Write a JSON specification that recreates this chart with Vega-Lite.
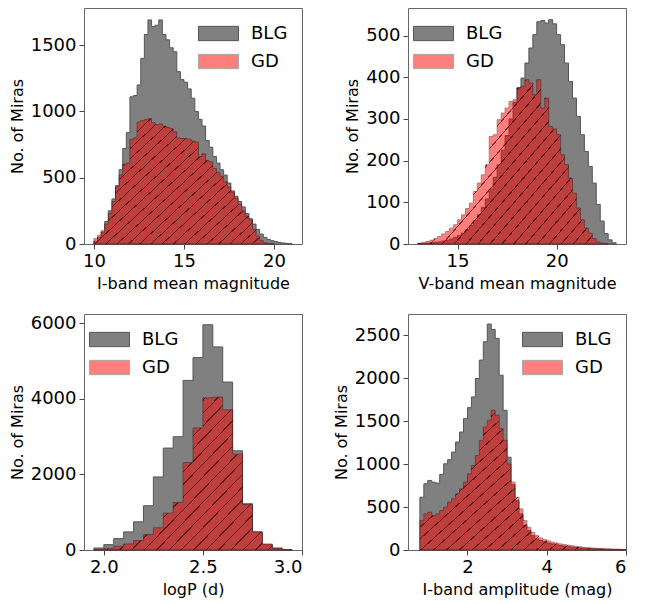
{
"$schema": "https://vega.github.io/schema/vega-lite/v6.json",
"padding": {"left": 8, "top": 7, "right": 5, "bottom": 5},
"config": {
  "font": "DejaVu Sans",
  "view": {"stroke": "#666", "strokeWidth": 1},
  "axis": {"domain": false, "grid": false, "tickColor": "#444", "tickSize": 5, "labelPadding": 3, "labelFontSize": 18, "labelColor": "#000", "titleFontSize": 16, "titleFontWeight": "normal", "titleColor": "#000", "titlePadding": 5},
  "legend": {"title": null, "symbolType": "M-1.82,-0.65L1.82,-0.65L1.82,0.65L-1.82,0.65Z", "symbolSize": 484, "symbolStrokeWidth": 1, "labelFontSize": 18, "labelColor": "#000", "labelOffset": 21, "offset": 14, "padding": 0, "rowPadding": 7}
},
"spacing": {"row": 21, "column": 29},
"columns": 2,
"resolve": {"scale": {"x": "independent", "y": "independent"}, "legend": {"color": "independent", "opacity": "independent"}},
"datasets": {
"imag": [
{"s":"BLG","x":10.0,"n":20},{"s":"BLG","x":10.2,"n":50},{"s":"BLG","x":10.4,"n":90},{"s":"BLG","x":10.6,"n":170},{"s":"BLG","x":10.8,"n":250},{"s":"BLG","x":11.0,"n":340},{"s":"BLG","x":11.2,"n":440},{"s":"BLG","x":11.4,"n":560},{"s":"BLG","x":11.6,"n":720},{"s":"BLG","x":11.8,"n":840},{"s":"BLG","x":12.0,"n":1110},{"s":"BLG","x":12.2,"n":1120},{"s":"BLG","x":12.4,"n":1200},{"s":"BLG","x":12.6,"n":1400},{"s":"BLG","x":12.8,"n":1580},{"s":"BLG","x":13.0,"n":1690},{"s":"BLG","x":13.2,"n":1640},{"s":"BLG","x":13.4,"n":1650},{"s":"BLG","x":13.6,"n":1690},{"s":"BLG","x":13.8,"n":1580},{"s":"BLG","x":14.0,"n":1540},{"s":"BLG","x":14.2,"n":1480},{"s":"BLG","x":14.4,"n":1450},{"s":"BLG","x":14.6,"n":1300},{"s":"BLG","x":14.8,"n":1240},{"s":"BLG","x":15.0,"n":1220},{"s":"BLG","x":15.2,"n":1170},{"s":"BLG","x":15.4,"n":1100},{"s":"BLG","x":15.6,"n":1000},{"s":"BLG","x":15.8,"n":940},{"s":"BLG","x":16.0,"n":890},{"s":"BLG","x":16.2,"n":780},{"s":"BLG","x":16.4,"n":730},{"s":"BLG","x":16.6,"n":660},{"s":"BLG","x":16.8,"n":610},{"s":"BLG","x":17.0,"n":560},{"s":"BLG","x":17.2,"n":520},{"s":"BLG","x":17.4,"n":460},{"s":"BLG","x":17.6,"n":400},{"s":"BLG","x":17.8,"n":360},{"s":"BLG","x":18.0,"n":320},{"s":"BLG","x":18.2,"n":280},{"s":"BLG","x":18.4,"n":230},{"s":"BLG","x":18.6,"n":190},{"s":"BLG","x":18.8,"n":150},{"s":"BLG","x":19.0,"n":110},{"s":"BLG","x":19.2,"n":75},{"s":"BLG","x":19.4,"n":50},{"s":"BLG","x":19.6,"n":35},{"s":"BLG","x":19.8,"n":25},{"s":"BLG","x":20.0,"n":18},{"s":"BLG","x":20.2,"n":12},{"s":"BLG","x":20.4,"n":8},{"s":"BLG","x":20.6,"n":5},{"s":"BLG","x":20.8,"n":3},{"s":"BLG","x":21.0,"n":0},
{"s":"GD","x":10.0,"n":40},{"s":"GD","x":10.2,"n":65},{"s":"GD","x":10.4,"n":100},{"s":"GD","x":10.6,"n":150},{"s":"GD","x":10.8,"n":230},{"s":"GD","x":11.0,"n":320},{"s":"GD","x":11.2,"n":430},{"s":"GD","x":11.4,"n":520},{"s":"GD","x":11.6,"n":600},{"s":"GD","x":11.8,"n":610},{"s":"GD","x":12.0,"n":790},{"s":"GD","x":12.2,"n":800},{"s":"GD","x":12.4,"n":920},{"s":"GD","x":12.6,"n":930},{"s":"GD","x":12.8,"n":940},{"s":"GD","x":13.0,"n":945},{"s":"GD","x":13.2,"n":915},{"s":"GD","x":13.4,"n":900},{"s":"GD","x":13.6,"n":905},{"s":"GD","x":13.8,"n":890},{"s":"GD","x":14.0,"n":880},{"s":"GD","x":14.2,"n":870},{"s":"GD","x":14.4,"n":845},{"s":"GD","x":14.6,"n":800},{"s":"GD","x":14.8,"n":795},{"s":"GD","x":15.0,"n":795},{"s":"GD","x":15.2,"n":790},{"s":"GD","x":15.4,"n":775},{"s":"GD","x":15.6,"n":770},{"s":"GD","x":15.8,"n":660},{"s":"GD","x":16.0,"n":680},{"s":"GD","x":16.2,"n":630},{"s":"GD","x":16.4,"n":620},{"s":"GD","x":16.6,"n":570},{"s":"GD","x":16.8,"n":540},{"s":"GD","x":17.0,"n":510},{"s":"GD","x":17.2,"n":470},{"s":"GD","x":17.4,"n":430},{"s":"GD","x":17.6,"n":390},{"s":"GD","x":17.8,"n":345},{"s":"GD","x":18.0,"n":300},{"s":"GD","x":18.2,"n":250},{"s":"GD","x":18.4,"n":210},{"s":"GD","x":18.6,"n":180},{"s":"GD","x":18.8,"n":110},{"s":"GD","x":19.0,"n":60},{"s":"GD","x":19.2,"n":25},{"s":"GD","x":19.4,"n":10},{"s":"GD","x":19.6,"n":5},{"s":"GD","x":19.8,"n":2},{"s":"GD","x":20.0,"n":0}
],
"vmag": [
{"s":"BLG","x":13.0,"n":1},{"s":"BLG","x":13.2,"n":1},{"s":"BLG","x":13.4,"n":2},{"s":"BLG","x":13.6,"n":3},{"s":"BLG","x":13.8,"n":4},{"s":"BLG","x":14.0,"n":5},{"s":"BLG","x":14.2,"n":7},{"s":"BLG","x":14.4,"n":9},{"s":"BLG","x":14.6,"n":12},{"s":"BLG","x":14.8,"n":16},{"s":"BLG","x":15.0,"n":20},{"s":"BLG","x":15.2,"n":26},{"s":"BLG","x":15.4,"n":34},{"s":"BLG","x":15.6,"n":44},{"s":"BLG","x":15.8,"n":56},{"s":"BLG","x":16.0,"n":70},{"s":"BLG","x":16.2,"n":88},{"s":"BLG","x":16.4,"n":108},{"s":"BLG","x":16.6,"n":132},{"s":"BLG","x":16.8,"n":160},{"s":"BLG","x":17.0,"n":190},{"s":"BLG","x":17.2,"n":225},{"s":"BLG","x":17.4,"n":260},{"s":"BLG","x":17.6,"n":300},{"s":"BLG","x":17.8,"n":340},{"s":"BLG","x":18.0,"n":375},{"s":"BLG","x":18.2,"n":398},{"s":"BLG","x":18.4,"n":434},{"s":"BLG","x":18.6,"n":470},{"s":"BLG","x":18.8,"n":502},{"s":"BLG","x":19.0,"n":533},{"s":"BLG","x":19.2,"n":536},{"s":"BLG","x":19.4,"n":530},{"s":"BLG","x":19.6,"n":538},{"s":"BLG","x":19.8,"n":528},{"s":"BLG","x":20.0,"n":502},{"s":"BLG","x":20.2,"n":478},{"s":"BLG","x":20.4,"n":434},{"s":"BLG","x":20.6,"n":390},{"s":"BLG","x":20.8,"n":350},{"s":"BLG","x":21.0,"n":306},{"s":"BLG","x":21.2,"n":262},{"s":"BLG","x":21.4,"n":222},{"s":"BLG","x":21.6,"n":186},{"s":"BLG","x":21.8,"n":146},{"s":"BLG","x":22.0,"n":95},{"s":"BLG","x":22.2,"n":55},{"s":"BLG","x":22.4,"n":25},{"s":"BLG","x":22.6,"n":10},{"s":"BLG","x":22.8,"n":3},{"s":"BLG","x":23.0,"n":0},
{"s":"GD","x":13.0,"n":2},{"s":"GD","x":13.2,"n":4},{"s":"GD","x":13.4,"n":6},{"s":"GD","x":13.6,"n":9},{"s":"GD","x":13.8,"n":13},{"s":"GD","x":14.0,"n":18},{"s":"GD","x":14.2,"n":24},{"s":"GD","x":14.4,"n":30},{"s":"GD","x":14.6,"n":38},{"s":"GD","x":14.8,"n":46},{"s":"GD","x":15.0,"n":58},{"s":"GD","x":15.2,"n":70},{"s":"GD","x":15.4,"n":85},{"s":"GD","x":15.6,"n":98},{"s":"GD","x":15.8,"n":126},{"s":"GD","x":16.0,"n":146},{"s":"GD","x":16.2,"n":166},{"s":"GD","x":16.4,"n":190},{"s":"GD","x":16.6,"n":258},{"s":"GD","x":16.8,"n":262},{"s":"GD","x":17.0,"n":298},{"s":"GD","x":17.2,"n":314},{"s":"GD","x":17.4,"n":326},{"s":"GD","x":17.6,"n":342},{"s":"GD","x":17.8,"n":346},{"s":"GD","x":18.0,"n":374},{"s":"GD","x":18.2,"n":378},{"s":"GD","x":18.4,"n":394},{"s":"GD","x":18.6,"n":386},{"s":"GD","x":18.8,"n":358},{"s":"GD","x":19.0,"n":394},{"s":"GD","x":19.2,"n":326},{"s":"GD","x":19.4,"n":350},{"s":"GD","x":19.6,"n":282},{"s":"GD","x":19.8,"n":276},{"s":"GD","x":20.0,"n":262},{"s":"GD","x":20.2,"n":214},{"s":"GD","x":20.4,"n":190},{"s":"GD","x":20.6,"n":158},{"s":"GD","x":20.8,"n":122},{"s":"GD","x":21.0,"n":86},{"s":"GD","x":21.2,"n":58},{"s":"GD","x":21.4,"n":38},{"s":"GD","x":21.6,"n":26},{"s":"GD","x":21.8,"n":13},{"s":"GD","x":22.0,"n":5},{"s":"GD","x":22.2,"n":2},{"s":"GD","x":22.4,"n":1},{"s":"GD","x":22.6,"n":0}
],
"logp": [
{"s":"BLG","x":1.95,"n":53},{"s":"BLG","x":2.0,"n":142},{"s":"BLG","x":2.05,"n":302},{"s":"BLG","x":2.1,"n":480},{"s":"BLG","x":2.15,"n":746},{"s":"BLG","x":2.2,"n":1172},{"s":"BLG","x":2.25,"n":1935},{"s":"BLG","x":2.3,"n":2699},{"s":"BLG","x":2.35,"n":3000},{"s":"BLG","x":2.4,"n":4492},{"s":"BLG","x":2.45,"n":5095},{"s":"BLG","x":2.5,"n":5965},{"s":"BLG","x":2.55,"n":5379},{"s":"BLG","x":2.6,"n":4447},{"s":"BLG","x":2.65,"n":2628},{"s":"BLG","x":2.7,"n":1225},{"s":"BLG","x":2.75,"n":480},{"s":"BLG","x":2.8,"n":142},{"s":"BLG","x":2.85,"n":53},{"s":"BLG","x":2.9,"n":9},{"s":"BLG","x":2.95,"n":0},
{"s":"GD","x":1.95,"n":9},{"s":"GD","x":2.0,"n":35},{"s":"GD","x":2.05,"n":98},{"s":"GD","x":2.1,"n":160},{"s":"GD","x":2.15,"n":249},{"s":"GD","x":2.2,"n":408},{"s":"GD","x":2.25,"n":586},{"s":"GD","x":2.3,"n":976},{"s":"GD","x":2.35,"n":1260},{"s":"GD","x":2.4,"n":2317},{"s":"GD","x":2.45,"n":3231},{"s":"GD","x":2.5,"n":4030},{"s":"GD","x":2.55,"n":4048},{"s":"GD","x":2.6,"n":3711},{"s":"GD","x":2.65,"n":2539},{"s":"GD","x":2.7,"n":1207},{"s":"GD","x":2.75,"n":480},{"s":"GD","x":2.8,"n":160},{"s":"GD","x":2.85,"n":35},{"s":"GD","x":2.9,"n":9},{"s":"GD","x":2.95,"n":0}
],
"amp": [
{"s":"BLG","x":0.8,"n":614},{"s":"BLG","x":0.9,"n":770},{"s":"BLG","x":1.0,"n":809},{"s":"BLG","x":1.1,"n":789},{"s":"BLG","x":1.2,"n":778},{"s":"BLG","x":1.3,"n":879},{"s":"BLG","x":1.4,"n":1003},{"s":"BLG","x":1.5,"n":1050},{"s":"BLG","x":1.6,"n":1139},{"s":"BLG","x":1.7,"n":1256},{"s":"BLG","x":1.8,"n":1372},{"s":"BLG","x":1.9,"n":1528},{"s":"BLG","x":2.0,"n":1656},{"s":"BLG","x":2.1,"n":1781},{"s":"BLG","x":2.2,"n":1995},{"s":"BLG","x":2.3,"n":2209},{"s":"BLG","x":2.4,"n":2422},{"s":"BLG","x":2.5,"n":2628},{"s":"BLG","x":2.6,"n":2566},{"s":"BLG","x":2.7,"n":2461},{"s":"BLG","x":2.8,"n":2033},{"s":"BLG","x":2.9,"n":1625},{"s":"BLG","x":3.0,"n":1080},{"s":"BLG","x":3.1,"n":760},{"s":"BLG","x":3.2,"n":575},{"s":"BLG","x":3.3,"n":420},{"s":"BLG","x":3.4,"n":284},{"s":"BLG","x":3.5,"n":226},{"s":"BLG","x":3.6,"n":167},{"s":"BLG","x":3.7,"n":128},{"s":"BLG","x":3.8,"n":110},{"s":"BLG","x":3.9,"n":95},{"s":"BLG","x":4.0,"n":80},{"s":"BLG","x":4.1,"n":70},{"s":"BLG","x":4.2,"n":60},{"s":"BLG","x":4.3,"n":52},{"s":"BLG","x":4.4,"n":45},{"s":"BLG","x":4.5,"n":38},{"s":"BLG","x":4.6,"n":32},{"s":"BLG","x":4.7,"n":28},{"s":"BLG","x":4.8,"n":24},{"s":"BLG","x":4.9,"n":20},{"s":"BLG","x":5.0,"n":17},{"s":"BLG","x":5.1,"n":15},{"s":"BLG","x":5.2,"n":13},{"s":"BLG","x":5.3,"n":11},{"s":"BLG","x":5.4,"n":9},{"s":"BLG","x":5.5,"n":8},{"s":"BLG","x":5.6,"n":7},{"s":"BLG","x":5.7,"n":6},{"s":"BLG","x":5.8,"n":5},{"s":"BLG","x":5.9,"n":4},{"s":"BLG","x":6.0,"n":0},
{"s":"GD","x":0.8,"n":342},{"s":"GD","x":0.9,"n":420},{"s":"GD","x":1.0,"n":439},{"s":"GD","x":1.1,"n":400},{"s":"GD","x":1.2,"n":420},{"s":"GD","x":1.3,"n":459},{"s":"GD","x":1.4,"n":498},{"s":"GD","x":1.5,"n":556},{"s":"GD","x":1.6,"n":595},{"s":"GD","x":1.7,"n":653},{"s":"GD","x":1.8,"n":711},{"s":"GD","x":1.9,"n":789},{"s":"GD","x":2.0,"n":886},{"s":"GD","x":2.1,"n":984},{"s":"GD","x":2.2,"n":1100},{"s":"GD","x":2.3,"n":1275},{"s":"GD","x":2.4,"n":1431},{"s":"GD","x":2.5,"n":1508},{"s":"GD","x":2.6,"n":1625},{"s":"GD","x":2.7,"n":1567},{"s":"GD","x":2.8,"n":1411},{"s":"GD","x":2.9,"n":1275},{"s":"GD","x":3.0,"n":1000},{"s":"GD","x":3.1,"n":790},{"s":"GD","x":3.2,"n":614},{"s":"GD","x":3.3,"n":478},{"s":"GD","x":3.4,"n":342},{"s":"GD","x":3.5,"n":264},{"s":"GD","x":3.6,"n":206},{"s":"GD","x":3.7,"n":167},{"s":"GD","x":3.8,"n":140},{"s":"GD","x":3.9,"n":120},{"s":"GD","x":4.0,"n":105},{"s":"GD","x":4.1,"n":90},{"s":"GD","x":4.2,"n":80},{"s":"GD","x":4.3,"n":70},{"s":"GD","x":4.4,"n":62},{"s":"GD","x":4.5,"n":55},{"s":"GD","x":4.6,"n":48},{"s":"GD","x":4.7,"n":42},{"s":"GD","x":4.8,"n":36},{"s":"GD","x":4.9,"n":30},{"s":"GD","x":5.0,"n":26},{"s":"GD","x":5.1,"n":22},{"s":"GD","x":5.2,"n":19},{"s":"GD","x":5.3,"n":16},{"s":"GD","x":5.4,"n":14},{"s":"GD","x":5.5,"n":12},{"s":"GD","x":5.6,"n":10},{"s":"GD","x":5.7,"n":9},{"s":"GD","x":5.8,"n":8},{"s":"GD","x":5.9,"n":7},{"s":"GD","x":6.0,"n":0}
]
},
"concat": [
{
 "width": 218, "height": 236,
 "data": {"name": "imag"},
 "encoding": {
  "x": {"field": "x", "type": "quantitative", "scale": {"domain": [9.45, 21.55], "nice": false, "zero": false}, "axis": {"values": [10, 15, 20], "title": "I-band mean magnitude"}},
  "y": {"field": "n", "type": "quantitative", "stack": null, "scale": {"domain": [0, 1780], "nice": false}, "axis": {"values": [0, 500, 1000, 1500], "format": "d", "title": "No. of Miras"}}
 },
 "layer": [
  {
   "mark": {"type": "area", "interpolate": "step-after", "strokeWidth": 1},
   "encoding": {
    "color": {"field": "s", "type": "nominal", "scale": {"domain": ["BLG", "GD"], "range": ["#808080", "#ff0000"]}, "legend": {"orient": "top-right"}},
    "opacity": {"field": "s", "type": "nominal", "scale": {"domain": ["BLG", "GD"], "range": [1, 0.5]}, "legend": {"orient": "top-right"}},
    "stroke": {"condition": {"test": "datum.s == 'GD'", "value": "#500000"}, "value": "#555555"}
   }
  },
  {
   "transform": [{"filter": "datum.s == 'GD'"}],
   "mark": {"type": "area", "interpolate": "step-after", "strokeWidth": 0, "fill": {"gradient": "linear", "x1": 0, "y1": 0, "x2": 1.12, "y2": 0.84, "stops": [
    {"offset": 0, "color": "rgba(0,0,0,0)"},
    {"offset": 0.0357, "color": "rgba(0,0,0,0)"}, {"offset": 0.0357, "color": "rgba(30,0,0,0.6)"}, {"offset": 0.0397, "color": "rgba(30,0,0,0.6)"}, {"offset": 0.0397, "color": "rgba(0,0,0,0)"},
    {"offset": 0.0714, "color": "rgba(0,0,0,0)"}, {"offset": 0.0714, "color": "rgba(30,0,0,0.6)"}, {"offset": 0.0754, "color": "rgba(30,0,0,0.6)"}, {"offset": 0.0754, "color": "rgba(0,0,0,0)"},
    {"offset": 0.1071, "color": "rgba(0,0,0,0)"}, {"offset": 0.1071, "color": "rgba(30,0,0,0.6)"}, {"offset": 0.1111, "color": "rgba(30,0,0,0.6)"}, {"offset": 0.1111, "color": "rgba(0,0,0,0)"},
    {"offset": 0.1429, "color": "rgba(0,0,0,0)"}, {"offset": 0.1429, "color": "rgba(30,0,0,0.6)"}, {"offset": 0.1469, "color": "rgba(30,0,0,0.6)"}, {"offset": 0.1469, "color": "rgba(0,0,0,0)"},
    {"offset": 0.1786, "color": "rgba(0,0,0,0)"}, {"offset": 0.1786, "color": "rgba(30,0,0,0.6)"}, {"offset": 0.1826, "color": "rgba(30,0,0,0.6)"}, {"offset": 0.1826, "color": "rgba(0,0,0,0)"},
    {"offset": 0.2143, "color": "rgba(0,0,0,0)"}, {"offset": 0.2143, "color": "rgba(30,0,0,0.6)"}, {"offset": 0.2183, "color": "rgba(30,0,0,0.6)"}, {"offset": 0.2183, "color": "rgba(0,0,0,0)"},
    {"offset": 0.25, "color": "rgba(0,0,0,0)"}, {"offset": 0.25, "color": "rgba(30,0,0,0.6)"}, {"offset": 0.254, "color": "rgba(30,0,0,0.6)"}, {"offset": 0.254, "color": "rgba(0,0,0,0)"},
    {"offset": 0.2857, "color": "rgba(0,0,0,0)"}, {"offset": 0.2857, "color": "rgba(30,0,0,0.6)"}, {"offset": 0.2897, "color": "rgba(30,0,0,0.6)"}, {"offset": 0.2897, "color": "rgba(0,0,0,0)"},
    {"offset": 0.3214, "color": "rgba(0,0,0,0)"}, {"offset": 0.3214, "color": "rgba(30,0,0,0.6)"}, {"offset": 0.3254, "color": "rgba(30,0,0,0.6)"}, {"offset": 0.3254, "color": "rgba(0,0,0,0)"},
    {"offset": 0.3571, "color": "rgba(0,0,0,0)"}, {"offset": 0.3571, "color": "rgba(30,0,0,0.6)"}, {"offset": 0.3611, "color": "rgba(30,0,0,0.6)"}, {"offset": 0.3611, "color": "rgba(0,0,0,0)"},
    {"offset": 0.3929, "color": "rgba(0,0,0,0)"}, {"offset": 0.3929, "color": "rgba(30,0,0,0.6)"}, {"offset": 0.3969, "color": "rgba(30,0,0,0.6)"}, {"offset": 0.3969, "color": "rgba(0,0,0,0)"},
    {"offset": 0.4286, "color": "rgba(0,0,0,0)"}, {"offset": 0.4286, "color": "rgba(30,0,0,0.6)"}, {"offset": 0.4326, "color": "rgba(30,0,0,0.6)"}, {"offset": 0.4326, "color": "rgba(0,0,0,0)"},
    {"offset": 0.4643, "color": "rgba(0,0,0,0)"}, {"offset": 0.4643, "color": "rgba(30,0,0,0.6)"}, {"offset": 0.4683, "color": "rgba(30,0,0,0.6)"}, {"offset": 0.4683, "color": "rgba(0,0,0,0)"},
    {"offset": 0.5, "color": "rgba(0,0,0,0)"}, {"offset": 0.5, "color": "rgba(30,0,0,0.6)"}, {"offset": 0.504, "color": "rgba(30,0,0,0.6)"}, {"offset": 0.504, "color": "rgba(0,0,0,0)"},
    {"offset": 0.5357, "color": "rgba(0,0,0,0)"}, {"offset": 0.5357, "color": "rgba(30,0,0,0.6)"}, {"offset": 0.5397, "color": "rgba(30,0,0,0.6)"}, {"offset": 0.5397, "color": "rgba(0,0,0,0)"},
    {"offset": 0.5714, "color": "rgba(0,0,0,0)"}, {"offset": 0.5714, "color": "rgba(30,0,0,0.6)"}, {"offset": 0.5754, "color": "rgba(30,0,0,0.6)"}, {"offset": 0.5754, "color": "rgba(0,0,0,0)"},
    {"offset": 0.6071, "color": "rgba(0,0,0,0)"}, {"offset": 0.6071, "color": "rgba(30,0,0,0.6)"}, {"offset": 0.6111, "color": "rgba(30,0,0,0.6)"}, {"offset": 0.6111, "color": "rgba(0,0,0,0)"},
    {"offset": 0.6429, "color": "rgba(0,0,0,0)"}, {"offset": 0.6429, "color": "rgba(30,0,0,0.6)"}, {"offset": 0.6469, "color": "rgba(30,0,0,0.6)"}, {"offset": 0.6469, "color": "rgba(0,0,0,0)"},
    {"offset": 0.6786, "color": "rgba(0,0,0,0)"}, {"offset": 0.6786, "color": "rgba(30,0,0,0.6)"}, {"offset": 0.6826, "color": "rgba(30,0,0,0.6)"}, {"offset": 0.6826, "color": "rgba(0,0,0,0)"},
    {"offset": 0.7143, "color": "rgba(0,0,0,0)"}, {"offset": 0.7143, "color": "rgba(30,0,0,0.6)"}, {"offset": 0.7183, "color": "rgba(30,0,0,0.6)"}, {"offset": 0.7183, "color": "rgba(0,0,0,0)"},
    {"offset": 0.75, "color": "rgba(0,0,0,0)"}, {"offset": 0.75, "color": "rgba(30,0,0,0.6)"}, {"offset": 0.754, "color": "rgba(30,0,0,0.6)"}, {"offset": 0.754, "color": "rgba(0,0,0,0)"},
    {"offset": 0.7857, "color": "rgba(0,0,0,0)"}, {"offset": 0.7857, "color": "rgba(30,0,0,0.6)"}, {"offset": 0.7897, "color": "rgba(30,0,0,0.6)"}, {"offset": 0.7897, "color": "rgba(0,0,0,0)"},
    {"offset": 0.8214, "color": "rgba(0,0,0,0)"}, {"offset": 0.8214, "color": "rgba(30,0,0,0.6)"}, {"offset": 0.8254, "color": "rgba(30,0,0,0.6)"}, {"offset": 0.8254, "color": "rgba(0,0,0,0)"},
    {"offset": 0.8571, "color": "rgba(0,0,0,0)"}, {"offset": 0.8571, "color": "rgba(30,0,0,0.6)"}, {"offset": 0.8611, "color": "rgba(30,0,0,0.6)"}, {"offset": 0.8611, "color": "rgba(0,0,0,0)"},
    {"offset": 0.8929, "color": "rgba(0,0,0,0)"}, {"offset": 0.8929, "color": "rgba(30,0,0,0.6)"}, {"offset": 0.8969, "color": "rgba(30,0,0,0.6)"}, {"offset": 0.8969, "color": "rgba(0,0,0,0)"},
    {"offset": 0.9286, "color": "rgba(0,0,0,0)"}, {"offset": 0.9286, "color": "rgba(30,0,0,0.6)"}, {"offset": 0.9326, "color": "rgba(30,0,0,0.6)"}, {"offset": 0.9326, "color": "rgba(0,0,0,0)"},
    {"offset": 1, "color": "rgba(0,0,0,0)"}
   ]}}
  }
 ]
},
{
 "width": 218, "height": 236,
 "data": {"name": "vmag"},
 "encoding": {
  "x": {"field": "x", "type": "quantitative", "scale": {"domain": [12.5, 23.5], "nice": false, "zero": false}, "axis": {"values": [15, 20], "title": "V-band mean magnitude"}},
  "y": {"field": "n", "type": "quantitative", "stack": null, "scale": {"domain": [0, 566], "nice": false}, "axis": {"values": [0, 100, 200, 300, 400, 500], "format": "d", "title": "No. of Miras"}}
 },
 "layer": [
  {
   "mark": {"type": "area", "interpolate": "step-after", "strokeWidth": 1},
   "encoding": {
    "color": {"field": "s", "type": "nominal", "scale": {"domain": ["BLG", "GD"], "range": ["#808080", "#ff0000"]}, "legend": {"orient": "top-left"}},
    "opacity": {"field": "s", "type": "nominal", "scale": {"domain": ["BLG", "GD"], "range": [1, 0.5]}, "legend": {"orient": "top-left"}},
    "stroke": {"condition": {"test": "datum.s == 'GD'", "value": "#500000"}, "value": "#555555"}
   }
  },
  {
   "transform": [{"filter": "datum.s == 'GD'"}],
   "mark": {"type": "area", "interpolate": "step-after", "strokeWidth": 0, "fill": {"gradient": "linear", "x1": 0, "y1": 0, "x2": 1.12, "y2": 0.84, "stops": [
    {"offset": 0, "color": "rgba(0,0,0,0)"},
    {"offset": 0.0357, "color": "rgba(0,0,0,0)"}, {"offset": 0.0357, "color": "rgba(30,0,0,0.6)"}, {"offset": 0.0397, "color": "rgba(30,0,0,0.6)"}, {"offset": 0.0397, "color": "rgba(0,0,0,0)"},
    {"offset": 0.0714, "color": "rgba(0,0,0,0)"}, {"offset": 0.0714, "color": "rgba(30,0,0,0.6)"}, {"offset": 0.0754, "color": "rgba(30,0,0,0.6)"}, {"offset": 0.0754, "color": "rgba(0,0,0,0)"},
    {"offset": 0.1071, "color": "rgba(0,0,0,0)"}, {"offset": 0.1071, "color": "rgba(30,0,0,0.6)"}, {"offset": 0.1111, "color": "rgba(30,0,0,0.6)"}, {"offset": 0.1111, "color": "rgba(0,0,0,0)"},
    {"offset": 0.1429, "color": "rgba(0,0,0,0)"}, {"offset": 0.1429, "color": "rgba(30,0,0,0.6)"}, {"offset": 0.1469, "color": "rgba(30,0,0,0.6)"}, {"offset": 0.1469, "color": "rgba(0,0,0,0)"},
    {"offset": 0.1786, "color": "rgba(0,0,0,0)"}, {"offset": 0.1786, "color": "rgba(30,0,0,0.6)"}, {"offset": 0.1826, "color": "rgba(30,0,0,0.6)"}, {"offset": 0.1826, "color": "rgba(0,0,0,0)"},
    {"offset": 0.2143, "color": "rgba(0,0,0,0)"}, {"offset": 0.2143, "color": "rgba(30,0,0,0.6)"}, {"offset": 0.2183, "color": "rgba(30,0,0,0.6)"}, {"offset": 0.2183, "color": "rgba(0,0,0,0)"},
    {"offset": 0.25, "color": "rgba(0,0,0,0)"}, {"offset": 0.25, "color": "rgba(30,0,0,0.6)"}, {"offset": 0.254, "color": "rgba(30,0,0,0.6)"}, {"offset": 0.254, "color": "rgba(0,0,0,0)"},
    {"offset": 0.2857, "color": "rgba(0,0,0,0)"}, {"offset": 0.2857, "color": "rgba(30,0,0,0.6)"}, {"offset": 0.2897, "color": "rgba(30,0,0,0.6)"}, {"offset": 0.2897, "color": "rgba(0,0,0,0)"},
    {"offset": 0.3214, "color": "rgba(0,0,0,0)"}, {"offset": 0.3214, "color": "rgba(30,0,0,0.6)"}, {"offset": 0.3254, "color": "rgba(30,0,0,0.6)"}, {"offset": 0.3254, "color": "rgba(0,0,0,0)"},
    {"offset": 0.3571, "color": "rgba(0,0,0,0)"}, {"offset": 0.3571, "color": "rgba(30,0,0,0.6)"}, {"offset": 0.3611, "color": "rgba(30,0,0,0.6)"}, {"offset": 0.3611, "color": "rgba(0,0,0,0)"},
    {"offset": 0.3929, "color": "rgba(0,0,0,0)"}, {"offset": 0.3929, "color": "rgba(30,0,0,0.6)"}, {"offset": 0.3969, "color": "rgba(30,0,0,0.6)"}, {"offset": 0.3969, "color": "rgba(0,0,0,0)"},
    {"offset": 0.4286, "color": "rgba(0,0,0,0)"}, {"offset": 0.4286, "color": "rgba(30,0,0,0.6)"}, {"offset": 0.4326, "color": "rgba(30,0,0,0.6)"}, {"offset": 0.4326, "color": "rgba(0,0,0,0)"},
    {"offset": 0.4643, "color": "rgba(0,0,0,0)"}, {"offset": 0.4643, "color": "rgba(30,0,0,0.6)"}, {"offset": 0.4683, "color": "rgba(30,0,0,0.6)"}, {"offset": 0.4683, "color": "rgba(0,0,0,0)"},
    {"offset": 0.5, "color": "rgba(0,0,0,0)"}, {"offset": 0.5, "color": "rgba(30,0,0,0.6)"}, {"offset": 0.504, "color": "rgba(30,0,0,0.6)"}, {"offset": 0.504, "color": "rgba(0,0,0,0)"},
    {"offset": 0.5357, "color": "rgba(0,0,0,0)"}, {"offset": 0.5357, "color": "rgba(30,0,0,0.6)"}, {"offset": 0.5397, "color": "rgba(30,0,0,0.6)"}, {"offset": 0.5397, "color": "rgba(0,0,0,0)"},
    {"offset": 0.5714, "color": "rgba(0,0,0,0)"}, {"offset": 0.5714, "color": "rgba(30,0,0,0.6)"}, {"offset": 0.5754, "color": "rgba(30,0,0,0.6)"}, {"offset": 0.5754, "color": "rgba(0,0,0,0)"},
    {"offset": 0.6071, "color": "rgba(0,0,0,0)"}, {"offset": 0.6071, "color": "rgba(30,0,0,0.6)"}, {"offset": 0.6111, "color": "rgba(30,0,0,0.6)"}, {"offset": 0.6111, "color": "rgba(0,0,0,0)"},
    {"offset": 0.6429, "color": "rgba(0,0,0,0)"}, {"offset": 0.6429, "color": "rgba(30,0,0,0.6)"}, {"offset": 0.6469, "color": "rgba(30,0,0,0.6)"}, {"offset": 0.6469, "color": "rgba(0,0,0,0)"},
    {"offset": 0.6786, "color": "rgba(0,0,0,0)"}, {"offset": 0.6786, "color": "rgba(30,0,0,0.6)"}, {"offset": 0.6826, "color": "rgba(30,0,0,0.6)"}, {"offset": 0.6826, "color": "rgba(0,0,0,0)"},
    {"offset": 0.7143, "color": "rgba(0,0,0,0)"}, {"offset": 0.7143, "color": "rgba(30,0,0,0.6)"}, {"offset": 0.7183, "color": "rgba(30,0,0,0.6)"}, {"offset": 0.7183, "color": "rgba(0,0,0,0)"},
    {"offset": 0.75, "color": "rgba(0,0,0,0)"}, {"offset": 0.75, "color": "rgba(30,0,0,0.6)"}, {"offset": 0.754, "color": "rgba(30,0,0,0.6)"}, {"offset": 0.754, "color": "rgba(0,0,0,0)"},
    {"offset": 0.7857, "color": "rgba(0,0,0,0)"}, {"offset": 0.7857, "color": "rgba(30,0,0,0.6)"}, {"offset": 0.7897, "color": "rgba(30,0,0,0.6)"}, {"offset": 0.7897, "color": "rgba(0,0,0,0)"},
    {"offset": 0.8214, "color": "rgba(0,0,0,0)"}, {"offset": 0.8214, "color": "rgba(30,0,0,0.6)"}, {"offset": 0.8254, "color": "rgba(30,0,0,0.6)"}, {"offset": 0.8254, "color": "rgba(0,0,0,0)"},
    {"offset": 0.8571, "color": "rgba(0,0,0,0)"}, {"offset": 0.8571, "color": "rgba(30,0,0,0.6)"}, {"offset": 0.8611, "color": "rgba(30,0,0,0.6)"}, {"offset": 0.8611, "color": "rgba(0,0,0,0)"},
    {"offset": 0.8929, "color": "rgba(0,0,0,0)"}, {"offset": 0.8929, "color": "rgba(30,0,0,0.6)"}, {"offset": 0.8969, "color": "rgba(30,0,0,0.6)"}, {"offset": 0.8969, "color": "rgba(0,0,0,0)"},
    {"offset": 0.9286, "color": "rgba(0,0,0,0)"}, {"offset": 0.9286, "color": "rgba(30,0,0,0.6)"}, {"offset": 0.9326, "color": "rgba(30,0,0,0.6)"}, {"offset": 0.9326, "color": "rgba(0,0,0,0)"},
    {"offset": 1, "color": "rgba(0,0,0,0)"}
   ]}}
  }
 ]
},
{
 "width": 218, "height": 236,
 "data": {"name": "logp"},
 "encoding": {
  "x": {"field": "x", "type": "quantitative", "scale": {"domain": [1.9, 3.0], "nice": false, "zero": false}, "axis": {"values": [2.0, 2.5, 3.0], "format": ".1f", "title": "logP (d)"}},
  "y": {"field": "n", "type": "quantitative", "stack": null, "scale": {"domain": [0, 6250], "nice": false}, "axis": {"values": [0, 2000, 4000, 6000], "format": "d", "title": "No. of Miras"}}
 },
 "layer": [
  {
   "mark": {"type": "area", "interpolate": "step-after", "strokeWidth": 1},
   "encoding": {
    "color": {"field": "s", "type": "nominal", "scale": {"domain": ["BLG", "GD"], "range": ["#808080", "#ff0000"]}, "legend": {"orient": "top-left"}},
    "opacity": {"field": "s", "type": "nominal", "scale": {"domain": ["BLG", "GD"], "range": [1, 0.5]}, "legend": {"orient": "top-left"}},
    "stroke": {"condition": {"test": "datum.s == 'GD'", "value": "#500000"}, "value": "#555555"}
   }
  },
  {
   "transform": [{"filter": "datum.s == 'GD'"}],
   "mark": {"type": "area", "interpolate": "step-after", "strokeWidth": 0, "fill": {"gradient": "linear", "x1": 0, "y1": 0, "x2": 1.12, "y2": 0.84, "stops": [
    {"offset": 0, "color": "rgba(0,0,0,0)"},
    {"offset": 0.0357, "color": "rgba(0,0,0,0)"}, {"offset": 0.0357, "color": "rgba(30,0,0,0.6)"}, {"offset": 0.0397, "color": "rgba(30,0,0,0.6)"}, {"offset": 0.0397, "color": "rgba(0,0,0,0)"},
    {"offset": 0.0714, "color": "rgba(0,0,0,0)"}, {"offset": 0.0714, "color": "rgba(30,0,0,0.6)"}, {"offset": 0.0754, "color": "rgba(30,0,0,0.6)"}, {"offset": 0.0754, "color": "rgba(0,0,0,0)"},
    {"offset": 0.1071, "color": "rgba(0,0,0,0)"}, {"offset": 0.1071, "color": "rgba(30,0,0,0.6)"}, {"offset": 0.1111, "color": "rgba(30,0,0,0.6)"}, {"offset": 0.1111, "color": "rgba(0,0,0,0)"},
    {"offset": 0.1429, "color": "rgba(0,0,0,0)"}, {"offset": 0.1429, "color": "rgba(30,0,0,0.6)"}, {"offset": 0.1469, "color": "rgba(30,0,0,0.6)"}, {"offset": 0.1469, "color": "rgba(0,0,0,0)"},
    {"offset": 0.1786, "color": "rgba(0,0,0,0)"}, {"offset": 0.1786, "color": "rgba(30,0,0,0.6)"}, {"offset": 0.1826, "color": "rgba(30,0,0,0.6)"}, {"offset": 0.1826, "color": "rgba(0,0,0,0)"},
    {"offset": 0.2143, "color": "rgba(0,0,0,0)"}, {"offset": 0.2143, "color": "rgba(30,0,0,0.6)"}, {"offset": 0.2183, "color": "rgba(30,0,0,0.6)"}, {"offset": 0.2183, "color": "rgba(0,0,0,0)"},
    {"offset": 0.25, "color": "rgba(0,0,0,0)"}, {"offset": 0.25, "color": "rgba(30,0,0,0.6)"}, {"offset": 0.254, "color": "rgba(30,0,0,0.6)"}, {"offset": 0.254, "color": "rgba(0,0,0,0)"},
    {"offset": 0.2857, "color": "rgba(0,0,0,0)"}, {"offset": 0.2857, "color": "rgba(30,0,0,0.6)"}, {"offset": 0.2897, "color": "rgba(30,0,0,0.6)"}, {"offset": 0.2897, "color": "rgba(0,0,0,0)"},
    {"offset": 0.3214, "color": "rgba(0,0,0,0)"}, {"offset": 0.3214, "color": "rgba(30,0,0,0.6)"}, {"offset": 0.3254, "color": "rgba(30,0,0,0.6)"}, {"offset": 0.3254, "color": "rgba(0,0,0,0)"},
    {"offset": 0.3571, "color": "rgba(0,0,0,0)"}, {"offset": 0.3571, "color": "rgba(30,0,0,0.6)"}, {"offset": 0.3611, "color": "rgba(30,0,0,0.6)"}, {"offset": 0.3611, "color": "rgba(0,0,0,0)"},
    {"offset": 0.3929, "color": "rgba(0,0,0,0)"}, {"offset": 0.3929, "color": "rgba(30,0,0,0.6)"}, {"offset": 0.3969, "color": "rgba(30,0,0,0.6)"}, {"offset": 0.3969, "color": "rgba(0,0,0,0)"},
    {"offset": 0.4286, "color": "rgba(0,0,0,0)"}, {"offset": 0.4286, "color": "rgba(30,0,0,0.6)"}, {"offset": 0.4326, "color": "rgba(30,0,0,0.6)"}, {"offset": 0.4326, "color": "rgba(0,0,0,0)"},
    {"offset": 0.4643, "color": "rgba(0,0,0,0)"}, {"offset": 0.4643, "color": "rgba(30,0,0,0.6)"}, {"offset": 0.4683, "color": "rgba(30,0,0,0.6)"}, {"offset": 0.4683, "color": "rgba(0,0,0,0)"},
    {"offset": 0.5, "color": "rgba(0,0,0,0)"}, {"offset": 0.5, "color": "rgba(30,0,0,0.6)"}, {"offset": 0.504, "color": "rgba(30,0,0,0.6)"}, {"offset": 0.504, "color": "rgba(0,0,0,0)"},
    {"offset": 0.5357, "color": "rgba(0,0,0,0)"}, {"offset": 0.5357, "color": "rgba(30,0,0,0.6)"}, {"offset": 0.5397, "color": "rgba(30,0,0,0.6)"}, {"offset": 0.5397, "color": "rgba(0,0,0,0)"},
    {"offset": 0.5714, "color": "rgba(0,0,0,0)"}, {"offset": 0.5714, "color": "rgba(30,0,0,0.6)"}, {"offset": 0.5754, "color": "rgba(30,0,0,0.6)"}, {"offset": 0.5754, "color": "rgba(0,0,0,0)"},
    {"offset": 0.6071, "color": "rgba(0,0,0,0)"}, {"offset": 0.6071, "color": "rgba(30,0,0,0.6)"}, {"offset": 0.6111, "color": "rgba(30,0,0,0.6)"}, {"offset": 0.6111, "color": "rgba(0,0,0,0)"},
    {"offset": 0.6429, "color": "rgba(0,0,0,0)"}, {"offset": 0.6429, "color": "rgba(30,0,0,0.6)"}, {"offset": 0.6469, "color": "rgba(30,0,0,0.6)"}, {"offset": 0.6469, "color": "rgba(0,0,0,0)"},
    {"offset": 0.6786, "color": "rgba(0,0,0,0)"}, {"offset": 0.6786, "color": "rgba(30,0,0,0.6)"}, {"offset": 0.6826, "color": "rgba(30,0,0,0.6)"}, {"offset": 0.6826, "color": "rgba(0,0,0,0)"},
    {"offset": 0.7143, "color": "rgba(0,0,0,0)"}, {"offset": 0.7143, "color": "rgba(30,0,0,0.6)"}, {"offset": 0.7183, "color": "rgba(30,0,0,0.6)"}, {"offset": 0.7183, "color": "rgba(0,0,0,0)"},
    {"offset": 0.75, "color": "rgba(0,0,0,0)"}, {"offset": 0.75, "color": "rgba(30,0,0,0.6)"}, {"offset": 0.754, "color": "rgba(30,0,0,0.6)"}, {"offset": 0.754, "color": "rgba(0,0,0,0)"},
    {"offset": 0.7857, "color": "rgba(0,0,0,0)"}, {"offset": 0.7857, "color": "rgba(30,0,0,0.6)"}, {"offset": 0.7897, "color": "rgba(30,0,0,0.6)"}, {"offset": 0.7897, "color": "rgba(0,0,0,0)"},
    {"offset": 0.8214, "color": "rgba(0,0,0,0)"}, {"offset": 0.8214, "color": "rgba(30,0,0,0.6)"}, {"offset": 0.8254, "color": "rgba(30,0,0,0.6)"}, {"offset": 0.8254, "color": "rgba(0,0,0,0)"},
    {"offset": 0.8571, "color": "rgba(0,0,0,0)"}, {"offset": 0.8571, "color": "rgba(30,0,0,0.6)"}, {"offset": 0.8611, "color": "rgba(30,0,0,0.6)"}, {"offset": 0.8611, "color": "rgba(0,0,0,0)"},
    {"offset": 0.8929, "color": "rgba(0,0,0,0)"}, {"offset": 0.8929, "color": "rgba(30,0,0,0.6)"}, {"offset": 0.8969, "color": "rgba(30,0,0,0.6)"}, {"offset": 0.8969, "color": "rgba(0,0,0,0)"},
    {"offset": 0.9286, "color": "rgba(0,0,0,0)"}, {"offset": 0.9286, "color": "rgba(30,0,0,0.6)"}, {"offset": 0.9326, "color": "rgba(30,0,0,0.6)"}, {"offset": 0.9326, "color": "rgba(0,0,0,0)"},
    {"offset": 1, "color": "rgba(0,0,0,0)"}
   ]}}
  }
 ]
},
{
 "width": 218, "height": 236,
 "data": {"name": "amp"},
 "encoding": {
  "x": {"field": "x", "type": "quantitative", "scale": {"domain": [0.5, 6.0], "nice": false, "zero": false}, "axis": {"values": [2, 4, 6], "title": "I-band amplitude (mag)"}},
  "y": {"field": "n", "type": "quantitative", "stack": null, "scale": {"domain": [0, 2745], "nice": false}, "axis": {"values": [0, 500, 1000, 1500, 2000, 2500], "format": "d", "title": "No. of Miras"}}
 },
 "layer": [
  {
   "mark": {"type": "area", "interpolate": "step-after", "strokeWidth": 1},
   "encoding": {
    "color": {"field": "s", "type": "nominal", "scale": {"domain": ["BLG", "GD"], "range": ["#808080", "#ff0000"]}, "legend": {"orient": "top-right"}},
    "opacity": {"field": "s", "type": "nominal", "scale": {"domain": ["BLG", "GD"], "range": [1, 0.5]}, "legend": {"orient": "top-right"}},
    "stroke": {"condition": {"test": "datum.s == 'GD'", "value": "#500000"}, "value": "#555555"}
   }
  },
  {
   "transform": [{"filter": "datum.s == 'GD'"}],
   "mark": {"type": "area", "interpolate": "step-after", "strokeWidth": 0, "fill": {"gradient": "linear", "x1": 0, "y1": 0, "x2": 1.12, "y2": 0.84, "stops": [
    {"offset": 0, "color": "rgba(0,0,0,0)"},
    {"offset": 0.0357, "color": "rgba(0,0,0,0)"}, {"offset": 0.0357, "color": "rgba(30,0,0,0.6)"}, {"offset": 0.0397, "color": "rgba(30,0,0,0.6)"}, {"offset": 0.0397, "color": "rgba(0,0,0,0)"},
    {"offset": 0.0714, "color": "rgba(0,0,0,0)"}, {"offset": 0.0714, "color": "rgba(30,0,0,0.6)"}, {"offset": 0.0754, "color": "rgba(30,0,0,0.6)"}, {"offset": 0.0754, "color": "rgba(0,0,0,0)"},
    {"offset": 0.1071, "color": "rgba(0,0,0,0)"}, {"offset": 0.1071, "color": "rgba(30,0,0,0.6)"}, {"offset": 0.1111, "color": "rgba(30,0,0,0.6)"}, {"offset": 0.1111, "color": "rgba(0,0,0,0)"},
    {"offset": 0.1429, "color": "rgba(0,0,0,0)"}, {"offset": 0.1429, "color": "rgba(30,0,0,0.6)"}, {"offset": 0.1469, "color": "rgba(30,0,0,0.6)"}, {"offset": 0.1469, "color": "rgba(0,0,0,0)"},
    {"offset": 0.1786, "color": "rgba(0,0,0,0)"}, {"offset": 0.1786, "color": "rgba(30,0,0,0.6)"}, {"offset": 0.1826, "color": "rgba(30,0,0,0.6)"}, {"offset": 0.1826, "color": "rgba(0,0,0,0)"},
    {"offset": 0.2143, "color": "rgba(0,0,0,0)"}, {"offset": 0.2143, "color": "rgba(30,0,0,0.6)"}, {"offset": 0.2183, "color": "rgba(30,0,0,0.6)"}, {"offset": 0.2183, "color": "rgba(0,0,0,0)"},
    {"offset": 0.25, "color": "rgba(0,0,0,0)"}, {"offset": 0.25, "color": "rgba(30,0,0,0.6)"}, {"offset": 0.254, "color": "rgba(30,0,0,0.6)"}, {"offset": 0.254, "color": "rgba(0,0,0,0)"},
    {"offset": 0.2857, "color": "rgba(0,0,0,0)"}, {"offset": 0.2857, "color": "rgba(30,0,0,0.6)"}, {"offset": 0.2897, "color": "rgba(30,0,0,0.6)"}, {"offset": 0.2897, "color": "rgba(0,0,0,0)"},
    {"offset": 0.3214, "color": "rgba(0,0,0,0)"}, {"offset": 0.3214, "color": "rgba(30,0,0,0.6)"}, {"offset": 0.3254, "color": "rgba(30,0,0,0.6)"}, {"offset": 0.3254, "color": "rgba(0,0,0,0)"},
    {"offset": 0.3571, "color": "rgba(0,0,0,0)"}, {"offset": 0.3571, "color": "rgba(30,0,0,0.6)"}, {"offset": 0.3611, "color": "rgba(30,0,0,0.6)"}, {"offset": 0.3611, "color": "rgba(0,0,0,0)"},
    {"offset": 0.3929, "color": "rgba(0,0,0,0)"}, {"offset": 0.3929, "color": "rgba(30,0,0,0.6)"}, {"offset": 0.3969, "color": "rgba(30,0,0,0.6)"}, {"offset": 0.3969, "color": "rgba(0,0,0,0)"},
    {"offset": 0.4286, "color": "rgba(0,0,0,0)"}, {"offset": 0.4286, "color": "rgba(30,0,0,0.6)"}, {"offset": 0.4326, "color": "rgba(30,0,0,0.6)"}, {"offset": 0.4326, "color": "rgba(0,0,0,0)"},
    {"offset": 0.4643, "color": "rgba(0,0,0,0)"}, {"offset": 0.4643, "color": "rgba(30,0,0,0.6)"}, {"offset": 0.4683, "color": "rgba(30,0,0,0.6)"}, {"offset": 0.4683, "color": "rgba(0,0,0,0)"},
    {"offset": 0.5, "color": "rgba(0,0,0,0)"}, {"offset": 0.5, "color": "rgba(30,0,0,0.6)"}, {"offset": 0.504, "color": "rgba(30,0,0,0.6)"}, {"offset": 0.504, "color": "rgba(0,0,0,0)"},
    {"offset": 0.5357, "color": "rgba(0,0,0,0)"}, {"offset": 0.5357, "color": "rgba(30,0,0,0.6)"}, {"offset": 0.5397, "color": "rgba(30,0,0,0.6)"}, {"offset": 0.5397, "color": "rgba(0,0,0,0)"},
    {"offset": 0.5714, "color": "rgba(0,0,0,0)"}, {"offset": 0.5714, "color": "rgba(30,0,0,0.6)"}, {"offset": 0.5754, "color": "rgba(30,0,0,0.6)"}, {"offset": 0.5754, "color": "rgba(0,0,0,0)"},
    {"offset": 0.6071, "color": "rgba(0,0,0,0)"}, {"offset": 0.6071, "color": "rgba(30,0,0,0.6)"}, {"offset": 0.6111, "color": "rgba(30,0,0,0.6)"}, {"offset": 0.6111, "color": "rgba(0,0,0,0)"},
    {"offset": 0.6429, "color": "rgba(0,0,0,0)"}, {"offset": 0.6429, "color": "rgba(30,0,0,0.6)"}, {"offset": 0.6469, "color": "rgba(30,0,0,0.6)"}, {"offset": 0.6469, "color": "rgba(0,0,0,0)"},
    {"offset": 0.6786, "color": "rgba(0,0,0,0)"}, {"offset": 0.6786, "color": "rgba(30,0,0,0.6)"}, {"offset": 0.6826, "color": "rgba(30,0,0,0.6)"}, {"offset": 0.6826, "color": "rgba(0,0,0,0)"},
    {"offset": 0.7143, "color": "rgba(0,0,0,0)"}, {"offset": 0.7143, "color": "rgba(30,0,0,0.6)"}, {"offset": 0.7183, "color": "rgba(30,0,0,0.6)"}, {"offset": 0.7183, "color": "rgba(0,0,0,0)"},
    {"offset": 0.75, "color": "rgba(0,0,0,0)"}, {"offset": 0.75, "color": "rgba(30,0,0,0.6)"}, {"offset": 0.754, "color": "rgba(30,0,0,0.6)"}, {"offset": 0.754, "color": "rgba(0,0,0,0)"},
    {"offset": 0.7857, "color": "rgba(0,0,0,0)"}, {"offset": 0.7857, "color": "rgba(30,0,0,0.6)"}, {"offset": 0.7897, "color": "rgba(30,0,0,0.6)"}, {"offset": 0.7897, "color": "rgba(0,0,0,0)"},
    {"offset": 0.8214, "color": "rgba(0,0,0,0)"}, {"offset": 0.8214, "color": "rgba(30,0,0,0.6)"}, {"offset": 0.8254, "color": "rgba(30,0,0,0.6)"}, {"offset": 0.8254, "color": "rgba(0,0,0,0)"},
    {"offset": 0.8571, "color": "rgba(0,0,0,0)"}, {"offset": 0.8571, "color": "rgba(30,0,0,0.6)"}, {"offset": 0.8611, "color": "rgba(30,0,0,0.6)"}, {"offset": 0.8611, "color": "rgba(0,0,0,0)"},
    {"offset": 0.8929, "color": "rgba(0,0,0,0)"}, {"offset": 0.8929, "color": "rgba(30,0,0,0.6)"}, {"offset": 0.8969, "color": "rgba(30,0,0,0.6)"}, {"offset": 0.8969, "color": "rgba(0,0,0,0)"},
    {"offset": 0.9286, "color": "rgba(0,0,0,0)"}, {"offset": 0.9286, "color": "rgba(30,0,0,0.6)"}, {"offset": 0.9326, "color": "rgba(30,0,0,0.6)"}, {"offset": 0.9326, "color": "rgba(0,0,0,0)"},
    {"offset": 1, "color": "rgba(0,0,0,0)"}
   ]}}
  }
 ]
}
]
}
